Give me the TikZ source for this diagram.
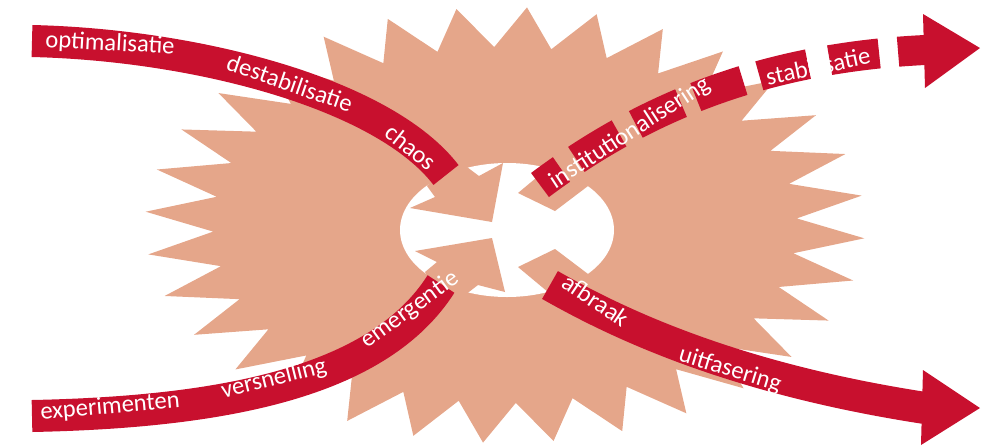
\documentclass[tikz,border=0pt]{standalone}
\usepackage{fontspec}
\setmainfont{Carlito}
\definecolor{bandred}{RGB}{200,16,46}
\definecolor{salmon}{RGB}{229,166,138}
\begin{document}
\begin{tikzpicture}[x=0.2mm,y=-0.2mm,
    band/.style={draw=bandred,line width=6.4mm},
    lbl/.style={text=white,font=\fontsize{14}{16}\selectfont,inner sep=0pt}]
    \useasboundingbox (0,0) rectangle (985,446);

    % starburst
    \fill[salmon] plot[variable=\k,samples at={0,...,63}]
         ({505+(360-68*mod(\k,2))*cos(3.5+5.625*\k)},{225+(218-40*mod(\k,2))*sin(3.5+5.625*\k)}) -- cycle;

    % hole with the turning arrows
    \fill[white] (507,230) ellipse [x radius=107, y radius=67];
    \fill[salmon] (410,208) -- (435,197) -- (427,186) -- (450,160) -- (467,167) -- (479,176) -- (503,163) -- (492,222) -- cycle;
    \fill[salmon] (415,251) -- (492,238) -- (505,292) -- (478,285) -- (465,295) -- (440,300) -- (425,272) -- (437,262) -- cycle;
    \fill[salmon] (518,193) -- (555,211) -- (592,183) -- (585,150) -- (548,168) -- cycle;
    \fill[salmon] (518,267) -- (555,249) -- (592,277) -- (585,310) -- (548,292) -- cycle;

    % bands
    \draw[band] (32,41) .. controls (200,45) and (385,95) .. (446,175);
    \draw[band] (32,416) .. controls (230,412) and (380,380) .. (441,284);
    \draw[band] (550,285) .. controls (615,322) and (730,378) .. (925,408);
    \draw[band,line width=6mm,dash pattern=on 5.4mm off 3.8mm on 10mm off 4.4mm on 10mm off 3.4mm on 10mm off 3.2mm on 10mm off 3.8mm on 10mm off 3.6mm on 10mm]
         (925,50) .. controls (760,58) and (640,110) .. (540,185);

    % heads
    \fill[bandred] (923,14) -- (980,48) -- (925,88) -- cycle;
    \fill[bandred] (923,370) -- (980,408) -- (921,445) -- cycle;

    % labels
    \node[lbl,rotate=-3] (optim) at (110,44) {optimalisatie};
    \node[lbl,rotate=-19] (destab) at (290,83) {destabilisatie};
    \node[lbl,rotate=-38] (chaos) at (411,147) {chaos};
    \node[lbl,rotate=5] (exper) at (110,407) {experimenten};
    \node[lbl,rotate=14] (versn) at (274,379) {versnelling};
    \node[lbl,rotate=36] (emerg) at (410,310) {emergentie};
    \node[lbl,rotate=33] (instit) at (630,133) {institutionalisering};
    \node[lbl,rotate=12] (stabil) at (818,66) {stabilisatie};
    \node[lbl,rotate=-34] (afbr) at (596,300) {afbraak};
    \node[lbl,rotate=-17] (uitf) at (730,370) {uitfasering};
\end{tikzpicture}
\end{document}
